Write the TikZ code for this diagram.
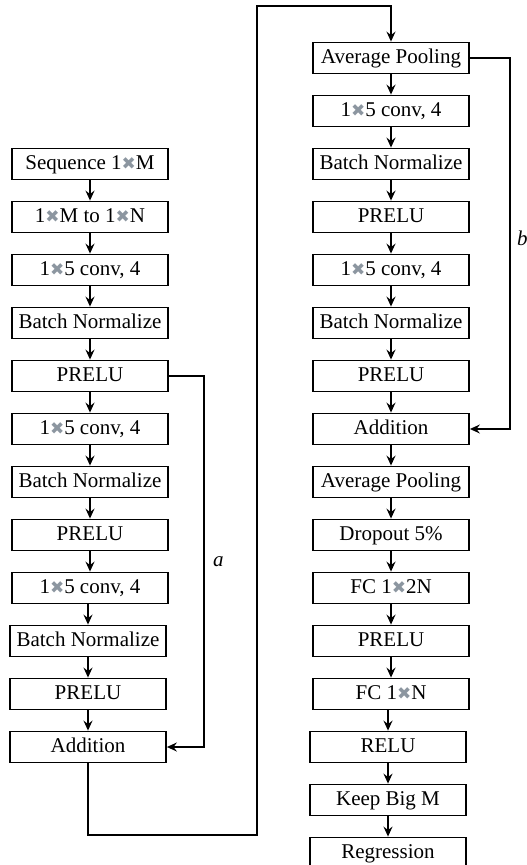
\documentclass[tikz,border=0pt]{standalone}
\usepackage{fontspec}
\setmainfont{Liberation Serif}
\newfontfamily\symfont{DejaVu Sans}
\usetikzlibrary{positioning, arrows.meta, calc}
\definecolor{crossgray}{RGB}{140,150,160}
\newcommand{\bycross}{{\color{crossgray}\symfont\fontsize{17}{17}\selectfont ✖}}

\begin{document}
\begin{tikzpicture}[x=1pt, y=1pt,
  layer/.style={draw, line width=1.8pt, minimum width=156pt, minimum height=31pt,
    inner xsep=2pt, inner ysep=0pt, text height=15pt, text depth=5pt,
    font=\fontsize{21}{24}\selectfont},
  flow/.style={line width=1.8pt, -{Stealth[length=10pt,width=9pt,inset=3.5pt]}},
  tag/.style={font=\fontsize{21}{24}\selectfont\itshape, anchor=west, inner sep=0pt},
  node distance=20.2pt]
  \useasboundingbox (0,0) rectangle (527,-865);

  % Left column
  \node[layer] (seq) at (90,-164) {Sequence 1\bycross M};
  \node[layer, below=of seq] (resize) {1\bycross M to 1\bycross N};
  \node[layer, below=of resize] (conv1) {1\bycross 5 conv, 4};
  \node[layer, below=of conv1] (bn1) {Batch Normalize};
  \node[layer, below=of bn1] (prelu1) {PRELU};
  \node[layer, below=of prelu1] (conv2) {1\bycross 5 conv, 4};
  \node[layer, below=of conv2] (bn2) {Batch Normalize};
  \node[layer, below=of bn2] (prelu2) {PRELU};
  \node[layer, below=of prelu2] (conv3) {1\bycross 5 conv, 4};
  \node[layer, below=of conv3, xshift=-2pt] (bn3) {Batch Normalize};
  \node[layer, below=of bn3] (prelu3) {PRELU};
  \node[layer, below=of prelu3] (add1) {Addition};

  % Right column
  \node[layer] (pool1) at (391,-58) {Average Pooling};
  \node[layer, below=of pool1] (conv4) {1\bycross 5 conv, 4};
  \node[layer, below=of conv4] (bn4) {Batch Normalize};
  \node[layer, below=of bn4] (prelu4) {PRELU};
  \node[layer, below=of prelu4] (conv5) {1\bycross 5 conv, 4};
  \node[layer, below=of conv5] (bn5) {Batch Normalize};
  \node[layer, below=of bn5] (prelu5) {PRELU};
  \node[layer, below=of prelu5] (add2) {Addition};
  \node[layer, below=of add2] (pool2) {Average Pooling};
  \node[layer, below=of pool2] (drop) {Dropout 5\%};
  \node[layer, below=of drop] (fc1) {FC 1\bycross 2N};
  \node[layer, below=of fc1] (prelu6) {PRELU};
  \node[layer, below=of prelu6] (fc2) {FC 1\bycross N};
  \node[layer, below=of fc2, xshift=-3pt] (relu) {RELU};
  \node[layer, below=of relu] (keep) {Keep Big M};
  \node[layer, below=of keep] (regr) {Regression};

  % Straight flow
  \foreach \u/\v in {seq/resize, resize/conv1, conv1/bn1, bn1/prelu1, prelu1/conv2,
      conv2/bn2, bn2/prelu2, prelu2/conv3, conv3/bn3, bn3/prelu3, prelu3/add1,
      pool1/conv4, conv4/bn4, bn4/prelu4, prelu4/conv5, conv5/bn5, bn5/prelu5,
      prelu5/add2, add2/pool2, pool2/drop, drop/fc1, fc1/prelu6, prelu6/fc2,
      fc2/relu, relu/keep, keep/regr}
    \draw[flow] (\v.north |- \u.south) -- (\v.north);

  % Link between the two columns
  \coordinate (lowturn) at (257,-835);
  \coordinate (topturn) at (257,-6);
  \draw[flow] (add1.south) |- (lowturn) -- (topturn) -| (pool1.north);

  % Shortcuts a and b
  \coordinate (aside) at (204,-562);
  \draw[flow] (prelu1.east) -| (aside) |- (add1.east);
  \node[tag] at ($(aside)+(9,0)$) {a};
  \coordinate (bside) at (510,-238);
  \draw[flow] (pool1.east) -| (bside) |- (add2.east);
  \node[tag] at ($(bside)+(7,0)$) {b};
\end{tikzpicture}
\end{document}
